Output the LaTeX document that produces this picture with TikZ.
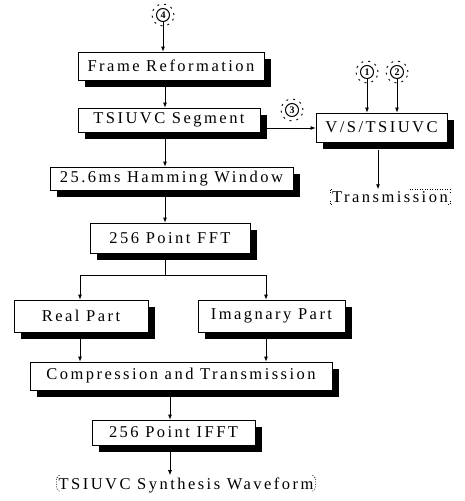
\documentclass[tikz,border=0pt]{standalone}
\usepackage{fontspec}
\setmainfont{Liberation Serif}[LetterSpace=15]
\usetikzlibrary{shadows,arrows.meta}
\begin{document}
\begin{tikzpicture}[x=1pt,y=-1pt,
  box/.style={draw=black,line width=0.8pt,fill=white,inner sep=0pt,
    font=\fontsize{16.5}{18}\selectfont,
    drop shadow={shadow xshift=7pt,shadow yshift=-7pt,fill=black,opacity=1}},
  lbl/.style={inner sep=2pt,font=\fontsize{16.5}{18}\selectfont},
  num/.style={circle,draw=black,line width=1pt,inner sep=0pt,minimum size=13pt,
    font=\fontsize{10}{10}\selectfont\bfseries},
  ring/.style={draw=black,line width=0.9pt,dash pattern=on 2pt off 5pt},
  conn/.style={line width=0.8pt},
  arr/.style={conn,-{Latex[length=5pt,width=4pt]}},
  brk/.style={line width=0.6pt,dash pattern=on 1pt off 1.5pt}]
\useasboundingbox (0,0) rectangle (465,501);
% boxes
\node[box,minimum width=186pt,minimum height=28pt] (fr) at (171,66) {Frame Reformation};
\node[box,minimum width=182pt,minimum height=24pt] (seg) at (169,120) {TSIUVC Segment};
\node[box,minimum width=131pt,minimum height=29pt] (vst) at (381.5,127.5) {V/S/TSIUVC};
\node[box,minimum width=243pt,minimum height=23pt] (ham) at (171.5,178.5) {25.6ms Hamming Window};
\node[box,minimum width=160pt,minimum height=30pt] (fft) at (170,238) {256 Point FFT};
\node[box,minimum width=134pt,minimum height=32pt] (real) at (81,316) {Real Part};
\node[box,minimum width=147pt,minimum height=32pt] (imag) at (271.5,316) {Imagnary Part};
\node[box,minimum width=302pt,minimum height=28pt] (comp) at (181,376) {Compression and Transmission};
\node[box,minimum width=163pt,minimum height=25pt] (ifft) at (173.5,432.5) {256 Point IFFT};
% labels
\node[lbl] (tx) at (390,197) {Transmission};
\node[lbl] (wf) at (186,485) {TSIUVC Synthesis Waveform};
% circled numbers
\node[num] (c4) at (163,15) {4};
\node[num] (c1) at (367,72) {1};
\node[num] (c2) at (397,72) {2};
\node[num] (c3) at (292,110) {3};
\foreach \c in {c4,c1,c2,c3}{\draw[ring] (\c.center) circle (11pt);}
% connectors
\draw[arr] (c4) -- (c4 |- fr.north);
\coordinate (m1) at (165,80);
\draw[arr] (fr.south -| m1) -- (seg.north -| m1);
\draw[arr] (seg.south -| m1) -- (ham.north -| m1);
\draw[arr] (ham.south -| m1) -- (fft.north -| m1);
\coordinate (bj) at (165,275);
\coordinate (bl) at (80,275);
\coordinate (br) at (266,275);
\draw[conn] (fft.south -| bj) -- (bj);
\draw[conn] (bl) -- (br);
\draw[arr] (bl) -- (real.north -| bl);
\draw[arr] (br) -- (imag.north -| br);
\draw[arr] (real.south -| bl) -- (comp.north -| bl);
\draw[arr] (imag.south -| br) -- (comp.north -| br);
\coordinate (m2) at (170,400);
\draw[arr] (comp.south -| m2) -- (ifft.north -| m2);
\draw[arr] (ifft.south -| m2) -- (m2 |- wf.north);
\coordinate (hz) at (266,128);
\draw[arr] (hz) -- (hz -| vst.west);
\draw[arr] (c1) -- (c1 |- vst.north);
\draw[arr] (c2) -- (c2 |- vst.north);
\coordinate (tv) at (378,150);
\draw[arr] (tv) -- (tv |- tx.north);
% brackets
\draw[brk] (tx.north west) ++(2,0) -- ++(-2,0) -- ++(0,4);
\draw[brk] (tx.south west) ++(0,-4) -- ++(0,4) -- ++(2,0);
\draw[brk] (tx.north east) ++(-40,0) -- ++(40,0) -- ++(0,4);
\draw[brk] (tx.south east) ++(0,-4) -- ++(0,4) -- ++(-2,0);
\draw[brk] (wf.north west) ++(3,0) -- ++(-3,3) -- ++(0,10) -- ++(3,3);
\draw[brk] (wf.north east) ++(-3,0) -- ++(3,3) -- ++(0,10) -- ++(-3,3);
\end{tikzpicture}
\end{document}
